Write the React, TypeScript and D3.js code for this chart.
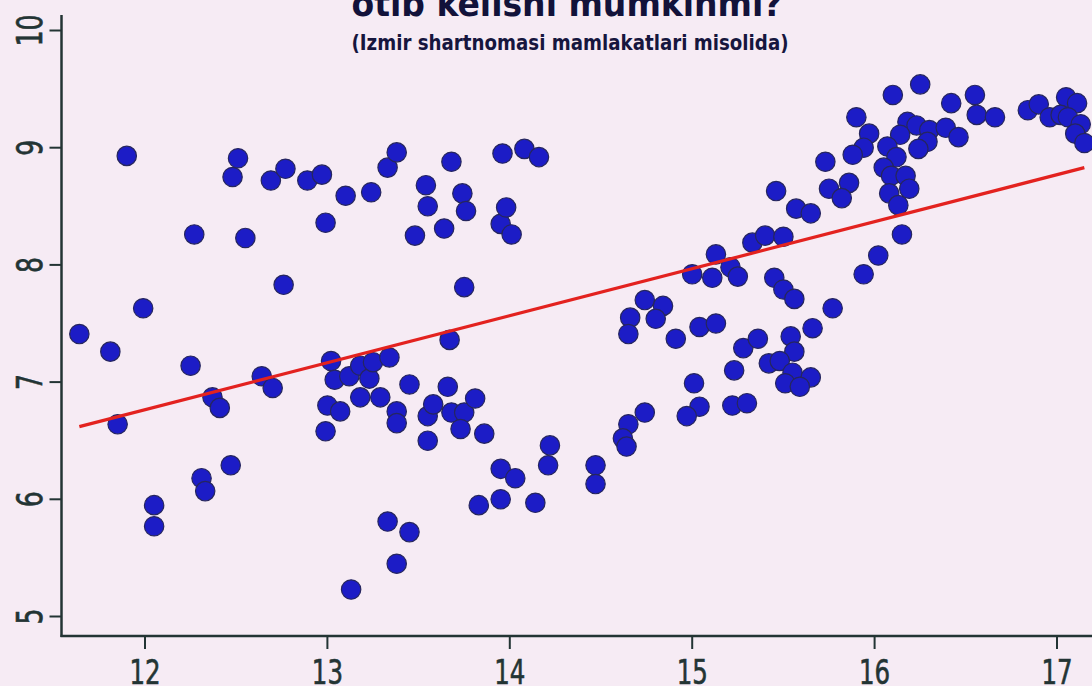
import React from "react";
import * as d3 from "d3";

const titleLine = "otib kelishi mumkinmi?";
const subtitleLine = "(Izmir shartnomasi mamlakatlari misolida)";

const xTicks = [12, 13, 14, 15, 16, 17];
const yTicks = [5, 6, 7, 8, 9, 10];

const xValues = [
  11.64, 11.81, 11.85, 11.90, 11.99, 12.05, 12.05, 12.25, 12.27, 12.31,
  12.33, 12.37, 12.41, 12.47, 12.48, 12.51, 12.55, 12.64, 12.70, 12.69,
  12.77, 12.76, 12.89, 12.97, 12.99, 13.02, 13.04, 13.00, 12.99, 13.07,
  13.10, 13.12, 13.13, 13.18, 13.18, 13.23, 13.25, 13.24, 13.29, 13.34,
  13.33, 13.33, 13.38, 13.38, 13.38, 13.38, 13.45, 13.45, 13.48, 13.54,
  13.55, 13.55, 13.55, 13.58, 13.64, 13.67, 13.66, 13.68, 13.68, 13.75,
  13.74, 13.76, 13.73, 13.75, 13.81, 13.83, 13.86, 13.95, 13.95, 13.95,
  13.96, 13.98, 14.01, 14.03, 14.08, 14.14, 14.16, 14.21, 14.22, 14.47,
  14.47,
  15.73, 15.46, 15.75, 15.57, 15.65, 15.33, 15.40, 15.50, 15.13, 15.00,
  15.11, 15.21, 15.25, 15.45, 15.50, 15.56, 15.77, 14.74, 14.84, 14.66,
  14.80, 14.65, 14.91, 15.04, 15.13, 15.66, 15.28, 15.36, 15.54, 15.56,
  15.23, 15.42, 15.48, 15.55, 15.65, 15.51, 15.59, 15.01, 15.04, 14.97,
  15.22, 15.30, 14.74, 14.65, 14.62, 14.64,
  16.25, 16.10, 16.42, 16.55, 16.56, 16.66, 15.90, 15.97, 15.94, 15.88,
  16.18, 16.23, 16.14, 16.30, 16.39, 16.46, 16.29, 16.24, 16.07, 16.12,
  16.05, 16.09, 16.17, 16.19, 16.08, 16.13, 15.86, 15.82, 16.15, 16.02,
  15.94, 16.84, 16.90, 16.96, 17.05, 17.11, 17.02, 17.06, 17.13, 17.10,
  17.15,
];

const yValues = [
  7.41, 7.26, 6.64, 8.93, 7.63, 5.95, 5.77, 7.14, 8.26, 6.18,
  6.07, 6.87, 6.78, 6.29, 8.75, 8.91, 8.23, 7.05, 6.95, 8.72,
  8.82, 7.83, 8.72, 8.77, 8.36, 7.18, 7.02, 6.80, 6.58, 6.75,
  8.59, 7.05, 5.23, 7.14, 6.87, 7.03, 7.17, 8.62, 6.87, 7.21,
  5.81, 8.83, 8.96, 5.45, 6.75, 6.65, 6.98, 5.72, 8.25, 8.68,
  8.50, 6.50, 6.71, 6.81, 8.31, 7.36, 6.96, 8.88, 6.74, 6.74,
  8.61, 8.46, 6.60, 7.81, 6.86, 5.95, 6.56, 6.00, 6.26, 8.35,
  8.95, 8.49, 8.26, 6.18, 8.99, 5.97, 8.92, 6.29, 6.46, 6.29,
  6.13,
  8.88, 8.63, 8.65, 8.48, 8.44, 8.19, 8.25, 8.24, 8.09, 7.92,
  7.89, 7.98, 7.90, 7.89, 7.79, 7.71, 7.63, 7.70, 7.65, 7.55,
  7.54, 7.41, 7.37, 7.47, 7.50, 7.46, 7.29, 7.37, 7.39, 7.26,
  7.10, 7.16, 7.18, 7.08, 7.04, 6.99, 6.96, 6.99, 6.79, 6.71,
  6.80, 6.82, 6.74, 6.64, 6.52, 6.45,
  9.54, 9.45, 9.38, 9.45, 9.28, 9.26, 9.26, 9.12, 9.00, 8.94,
  9.22, 9.19, 9.11, 9.15, 9.17, 9.09, 9.05, 8.99, 9.01, 8.92,
  8.83, 8.76, 8.76, 8.65, 8.61, 8.51, 8.70, 8.57, 8.26, 8.08,
  7.92, 9.32, 9.37, 9.26, 9.43, 9.38, 9.28, 9.26, 9.20, 9.12,
  9.04,
];

const fitX = [11.64, 17.15];
const fitY = [6.62, 8.83];

const W = 1092;
const H = 686;

export default function App() {
  const x = d3.scaleLinear().domain([12, 17]).range([145, 1057]);
  const y = d3.scaleLinear().domain([5, 10]).range([616.5, 30.5]);

  const axisColor = "#233434";
  const axisLeft = 61.5;
  const axisBottom = 636;

  const points = xValues.map((v, i) => [v, yValues[i]] as [number, number]);
  const line = d3
    .line<number>()
    .x((d) => x(fitX[d]))
    .y((d) => y(fitY[d]));

  const tickFont = "'Liberation Sans Narrow', 'DejaVu Sans Condensed', 'Roboto', sans-serif";

  return (
    <svg
      width={W}
      height={H}
      style={{ position: "absolute", left: 0, top: 0, display: "block", overflow: "hidden" }}
    >
      <rect x={0} y={0} width={W} height={H} fill="#f6ebf4" />

      {/* title (cut at top, as in the reference) */}
      <text
        x={567}
        y={16}
        textAnchor="middle"
        textLength={431}
        lengthAdjust="spacingAndGlyphs"
        fontFamily="'DejaVu Sans Condensed', 'DejaVu Sans', sans-serif"
        fontWeight="bold"
        fontSize={36}
        fill="#12123a"
      >
        {titleLine}
      </text>
      <text
        x={570}
        y={50}
        textAnchor="middle"
        textLength={437}
        lengthAdjust="spacingAndGlyphs"
        fontFamily="'DejaVu Sans Condensed', 'DejaVu Sans', sans-serif"
        fontWeight="bold"
        fontSize={21}
        fill="#16163e"
      >
        {subtitleLine}
      </text>

      {/* points */}
      <g>
        {points.map((p, i) => (
          <circle
            key={i}
            cx={x(p[0])}
            cy={y(p[1])}
            r={9.7}
            fill="#1c1cc6"
            stroke="#26265e"
            strokeWidth={1.2}
          />
        ))}
      </g>

      {/* fitted line */}
      <path d={line([0, 1]) || ""} fill="none" stroke="#e3221f" strokeWidth={3.2} strokeLinecap="butt" />

      {/* axes */}
      <line x1={axisLeft} x2={axisLeft} y1={15} y2={axisBottom + 1} stroke={axisColor} strokeWidth={2.5} />
      <line x1={axisLeft - 1} x2={W} y1={axisBottom} y2={axisBottom} stroke={axisColor} strokeWidth={2.5} />

      {yTicks.map((t) => (
        <g key={"y" + t}>
          <line x1={axisLeft - 12} x2={axisLeft} y1={y(t)} y2={y(t)} stroke={axisColor} strokeWidth={2} />
          <text
            transform={`translate(42,${y(t)}) rotate(-90) scale(0.8,1)`}
            textAnchor="middle"
            fontFamily={tickFont}
            fontSize={35}
            fill={axisColor}
            stroke={axisColor}
            strokeWidth={0.6}
          >
            {t}
          </text>
        </g>
      ))}

      {xTicks.map((t) => (
        <g key={"x" + t}>
          <line x1={x(t)} x2={x(t)} y1={axisBottom} y2={axisBottom + 13} stroke={axisColor} strokeWidth={2} />
          <text
            transform={`translate(${x(t)},684) scale(0.8,1)`}
            textAnchor="middle"
            fontFamily={tickFont}
            fontSize={34}
            fill={axisColor}
            stroke={axisColor}
            strokeWidth={0.6}
          >
            {t}
          </text>
        </g>
      ))}
    </svg>
  );
}
